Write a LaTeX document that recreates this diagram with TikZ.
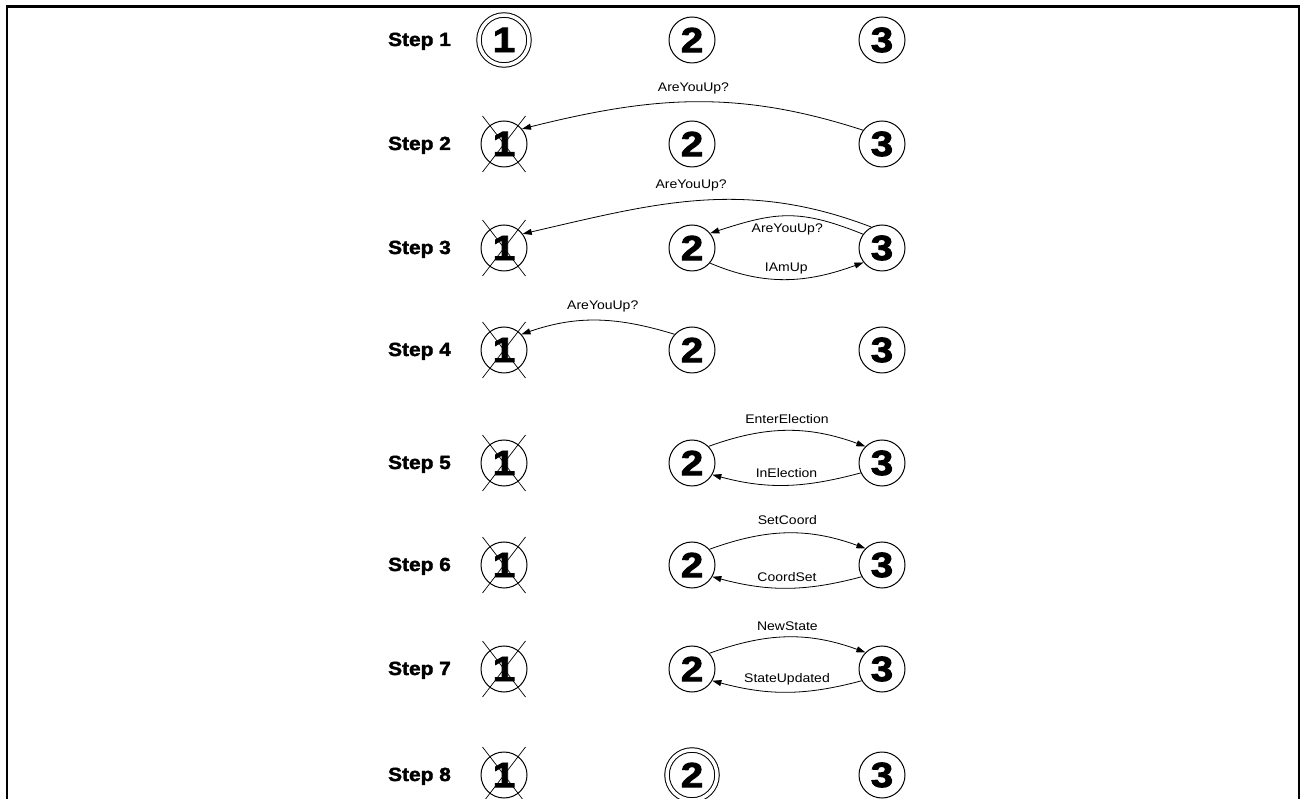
\documentclass[tikz,border=0pt]{standalone}
\usepackage{fontspec}
\setmainfont{Liberation Sans}
\newfontfamily\lblfont[FakeStretch=1.12]{Liberation Sans}
\newfontfamily\boldfont[FakeStretch=1.1,FakeBold=2]{Liberation Sans}
\newfontfamily\digitfont[FakeStretch=1.15,FakeBold=2.6]{Liberation Sans}
\usetikzlibrary{arrows.meta,calc}
\tikzset{
  proc/.style={circle, draw, line width=1pt, minimum size=46pt, inner sep=0pt,
    font=\digitfont\bfseries\fontsize{35}{35}\selectfont},
  leader/.style={proc, double, double distance=3.5pt, minimum size=50pt},
  steplabel/.style={font=\boldfont\bfseries\fontsize{19}{19}\selectfont, inner sep=0pt, anchor=base},
  msg/.style={line width=0.8pt, -{Triangle[length=9pt,width=6pt]}},
  msglabel/.style={font=\lblfont\fontsize{12.5}{12.5}\selectfont, inner sep=0pt},
  xline/.style={line width=0.7pt},
}
\begin{document}
\begin{tikzpicture}[x=1pt,y=1pt]
\useasboundingbox (0,0) rectangle (1300,798);
\draw[line width=2.2pt] (7,-10) rectangle (1299.5,791.5);

% rows: Y = 798 - y_img
\foreach \r/\y in {1/758,2/654,3/550,4/448,5/335,6/233,7/129,8/23}{
  \node[steplabel] (s\r) at (419.5,\y-6) {Step \r};
}

% Step 1
\node[leader] (n11) at (504,758) {1};
\node[proc]   (n12) at (692,758) {2};
\node[proc]   (n13) at (882,758) {3};
% Step 2..8
\node[proc] (n21) at (504,654) {1};
\node[proc] (n22) at (692,654) {2};
\node[proc] (n23) at (882,654) {3};
\node[proc] (n31) at (504,550) {1};
\node[proc] (n32) at (692,550) {2};
\node[proc] (n33) at (882,550) {3};
\node[proc] (n41) at (504,448) {1};
\node[proc] (n42) at (692,448) {2};
\node[proc] (n43) at (882,448) {3};
\node[proc] (n51) at (504,335) {1};
\node[proc] (n52) at (692,335) {2};
\node[proc] (n53) at (882,335) {3};
\node[proc] (n61) at (504,233) {1};
\node[proc] (n62) at (692,233) {2};
\node[proc] (n63) at (882,233) {3};
\node[proc] (n71) at (504,129) {1};
\node[proc] (n72) at (692,129) {2};
\node[proc] (n73) at (882,129) {3};
\node[proc]   (n81) at (504,23) {1};
\node[leader] (n82) at (692,23) {2};
\node[proc]   (n83) at (882,23) {3};

% crosses on failed node 1
\foreach \n in {n21,n31,n41,n51,n61,n71,n81}{
  \draw[xline] ($(\n)+(-21.5,28)$) -- ($(\n)+(21.5,-28)$);
  \draw[xline] ($(\n)+(-21.5,-28)$) -- ($(\n)+(21.5,28)$);
}

% Step 2
\draw[msg] (n23.144) to[out=162,in=14] node[msglabel,yshift=14pt] (l2) {AreYouUp?} (n21.40);
% Step 3
\draw[msg] (n33.117) to[out=159,in=13] node[msglabel,yshift=15pt,xshift=-8pt] (l3a) {AreYouUp?} (n31.37);
\draw[msg] (n33.144) to[out=158,in=18,looseness=1.15] node[msglabel,yshift=-13pt] (l3b) {AreYouUp?} (n32.39);
\draw[msg] (n32.-40) to[out=-23,in=200] node[msglabel,yshift=11pt] (l3c) {IAmUp} (n33.218);
% Step 4
\draw[msg] (n42.138) to[out=163,in=19] node[msglabel,yshift=14pt,xshift=5pt] (l4) {AreYouUp?} (n41.42);
% Step 5
\draw[msg] (n52.45) to[out=20,in=160] node[msglabel,yshift=12pt] (l5a) {EnterElection} (n53.135);
\draw[msg] (n53.-155) to[out=195,in=-15] node[msglabel,yshift=12pt] (l5b) {InElection} (n52.-30);
% Step 6
\draw[msg] (n62.42) to[out=20,in=160] node[msglabel,yshift=13pt] (l6a) {SetCoord} (n63.135);
\draw[msg] (n63.-150) to[out=195,in=-15] node[msglabel,yshift=11pt] (l6b) {CoordSet} (n62.-30);
% Step 7
\draw[msg] (n72.42) to[out=20,in=160] node[msglabel,yshift=11pt] (l7a) {NewState} (n73.135);
\draw[msg] (n73.-150) to[out=195,in=-15] node[msglabel,yshift=13pt] (l7b) {StateUpdated} (n72.-30);
\end{tikzpicture}
\end{document}
